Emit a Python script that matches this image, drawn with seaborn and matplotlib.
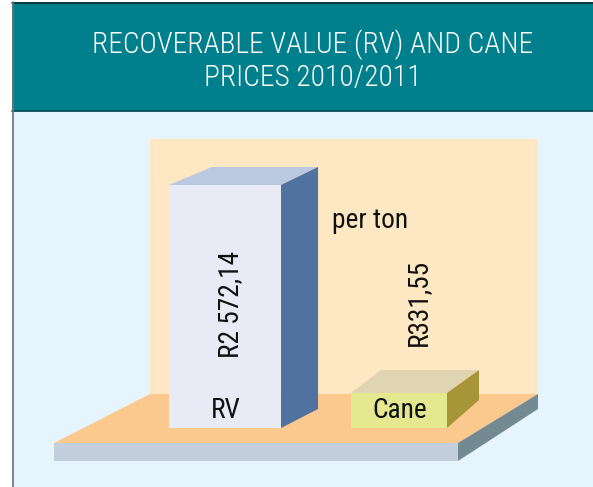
import matplotlib
matplotlib.use('Agg')
import matplotlib.pyplot as plt
from matplotlib.patches import Polygon, Rectangle
import seaborn as sns

## Values per ton, 2010/2011
categories = ['RV', 'Cane']
values = [2572.14, 331.55]
value_labels = ['R2 572,14', 'R331,55']
unit_label = 'per ton'
title_lines = 'RECOVERABLE VALUE (RV) AND CANE\nPRICES 2010/2011'

W, H = 593, 487
front_colors = ['#E8EBF5', '#E4E88F']
top_colors = ['#BAC8E0', '#DFD5B3']
side_colors = ['#4F729E', '#A69637']
widths = [0.644, 0.552]

sns.set_theme(style='white')
plt.rcParams['font.family'] = ['Roboto Condensed', 'DejaVu Sans']

fig = plt.figure(figsize=(W / 100, H / 100), dpi=100, facecolor='white')

## Backdrop in pixel coordinates
bg = fig.add_axes([0, 0, 1, 1])
bg.set_xlim(0, W)
bg.set_ylim(H, 0)
bg.axis('off')
bg.add_patch(Rectangle((12, 111), W - 12, H - 111, fc='#E6F4FD', ec='none'))
bg.add_patch(Rectangle((12, 2), W - 12, 109, fc='#007F8C', ec='none'))
bg.plot([12, W], [2.5, 2.5], color='#0A2F33', lw=1.2)
bg.plot([12, W], [111, 111], color='#0B4F56', lw=1.3)
bg.plot([12.5, 12.5], [2, H], color='#6F7476', lw=1.2)
bg.add_patch(Rectangle((150, 139), 388, 255, fc='#FEE7C3', ec='none'))
bg.add_patch(Polygon([(54, 443), (150, 394), (538, 394), (458, 443)], fc='#FBC98D', ec='none'))
bg.add_patch(Rectangle((54, 443), 404, 18, fc='#C3CFDC', ec='none'))
bg.add_patch(Polygon([(458, 443), (538, 394), (538, 409), (458, 461)], fc='#748A93', ec='none'))

## Front faces of the bars; the artwork is slightly off a linear scale
ax = fig.add_axes([138 / W, (H - 428) / H, 348 / W, 243 / H])
ax.patch.set_alpha(0)
for cat, val, col, wid in zip(categories, values, front_colors, widths):
    sns.barplot(x=[cat], y=[val], order=categories, color=col, saturation=1,
                width=wid, linewidth=0, ax=ax)
ax.set_yscale('function', functions=(lambda v: v ** 0.9457, lambda v: v ** (1 / 0.9457)))
ax.set_xlim(-0.5, 1.5)
ax.set_ylim(0, values[0])
ax.axis('off')

## Top and side faces follow the bars
fig.canvas.draw()
# right shift, rise at the top, rise at the bottom, left shift of the back corner
depths = [(37, 18, 19, 43), (32, 23, 28, 30)]
to_px = ax.transData + bg.transData.inverted()
for bar, top, side, (dx, rise_top, rise_bottom, dx_left) in zip(ax.patches, top_colors, side_colors, depths):
    x0, y1 = to_px.transform((bar.get_x(), bar.get_height()))
    x1, y0 = to_px.transform((bar.get_x() + bar.get_width(), 0))
    bg.add_patch(Polygon([(x0, y1), (x0 + dx_left, y1 - rise_top), (x1 + dx, y1 - rise_top), (x1, y1)],
                         fc=top, ec='none', zorder=3))
    bg.add_patch(Polygon([(x1, y1), (x1 + dx, y1 - rise_top), (x1 + dx, y0 - rise_bottom), (x1, y0)],
                         fc=side, ec='none', zorder=3))

## Texts
fig.text(313 / W, 1 - 61 / H, title_lines, color='white', fontsize=21.2, fontweight=300,
         ha='center', va='center', linespacing=1.18)
label_style = dict(color='#111111', fontsize=19.7, ha='center', va='center', zorder=10)
label_spots = [(226, 411, categories[0], 0), (400, 411, categories[1], 0),
               (230.5, 304, value_labels[0], 90), (418.5, 302, value_labels[1], 90),
               (370, 220, unit_label, 0)]
for x, y, s, rot in label_spots:
    fig.text(x / W, 1 - y / H, s, rotation=rot, **label_style)

fig.savefig('out.png', dpi=100)
